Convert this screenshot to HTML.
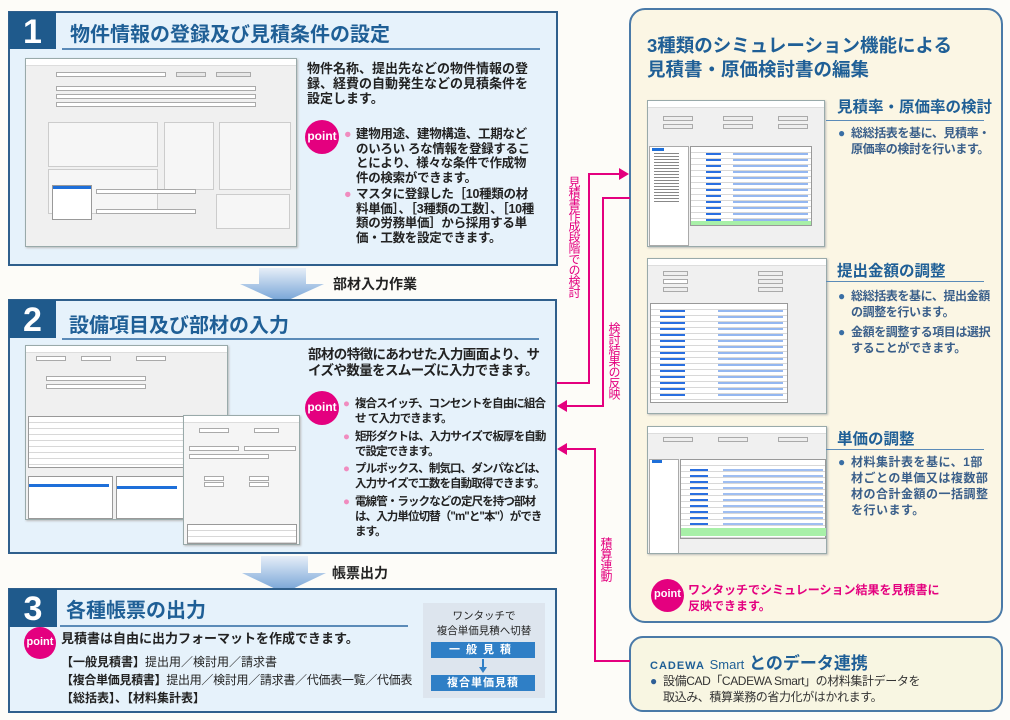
<!DOCTYPE html>
<html><head><meta charset="utf-8"><style>
*{margin:0;padding:0;box-sizing:border-box}
body{width:1010px;height:720px;position:relative;overflow:hidden;background:#fdfcf8;font-family:"Liberation Sans","Noto Sans CJK JP",sans-serif;color:#222}
.a{position:absolute}
.panel{position:absolute;background:#e6f2fb;border:2px solid #2f5f8c}
.num{position:absolute;background:#1f5a8c;color:#fff;font-weight:bold;font-size:34px;text-align:center;line-height:40px}
.ttl{position:absolute;color:#1f5f96;font-weight:bold;font-size:20px;white-space:nowrap;line-height:1}
.ul{position:absolute;height:2px;background:#5b8bb8}
.txt{position:absolute;font-weight:bold;font-size:13px;line-height:15px;color:#222}
.pt{position:absolute;border-radius:50%;background:#e4007f;color:#fff;font-weight:bold;font-size:12px;text-align:center}
.bl{position:absolute;font-weight:bold;font-size:12.5px;line-height:14.5px;color:#222}
.bl b{color:#f08cbf;position:absolute;left:-12px}
.rh{position:absolute;color:#1f5f96;font-weight:bold;font-size:15.5px;white-space:nowrap;line-height:1}
.rb{position:absolute;font-size:12px;line-height:16px;color:#3a5f8a;font-weight:bold;letter-spacing:-0.4px}
.rb b{color:#3a6fa5;position:absolute;left:-13px}
.win{position:absolute;background:#f0f0f0;border:1px solid #9aa;box-shadow:1px 1px 2px #bbb;overflow:hidden}
.win .tb{height:7px;background:#fff;border-bottom:1px solid #ddd}
.tbl{position:absolute;background:#fff;border:1px solid #999;background-image:repeating-linear-gradient(#fff 0 5px,#d8d8d8 5px 6px)}
.blu{position:absolute;background:repeating-linear-gradient(#2a6fe0 0 2px,transparent 2px 6px)}
.fld{position:absolute;background:#fff;border:1px solid #aaa;height:5px}
.vt{position:absolute;writing-mode:vertical-rl;color:#e4007f;font-size:12px;line-height:12px;letter-spacing:-1px}
.pk{position:absolute;background:#e4007f}
.arr{position:absolute}
</style></head><body>

<!-- Panel 1 -->
<div class="panel" style="left:8px;top:11px;width:550px;height:255px"></div>
<div class="num" style="left:9px;top:12px;width:47px;height:37px">1</div>
<div class="ttl" style="left:70px;top:25px">物件情報の登録及び見積条件の設定</div>
<div class="ul" style="left:62px;top:48px;width:478px"></div>
<div class="win" style="left:25px;top:58px;width:272px;height:189px"><div class="tb"></div>
 <div class="fld" style="left:30px;top:13px;width:110px"></div><div class="fld" style="left:150px;top:13px;width:30px;background:#e8e8e8"></div><div class="fld" style="left:190px;top:13px;width:35px;background:#e8e8e8"></div>
 <div class="fld" style="left:30px;top:27px;width:200px"></div><div class="fld" style="left:30px;top:35px;width:200px"></div><div class="fld" style="left:30px;top:43px;width:200px"></div>
 <div class="a" style="left:22px;top:63px;width:110px;height:45px;border:1px solid #ccc;background:#f6f6f6"></div>
 <div class="a" style="left:138px;top:63px;width:50px;height:68px;border:1px solid #ccc;background:#f6f6f6"></div>
 <div class="a" style="left:193px;top:63px;width:72px;height:68px;border:1px solid #ccc;background:#f6f6f6"></div>
 <div class="a" style="left:22px;top:110px;width:110px;height:45px;border:1px solid #ccc;background:#f6f6f6"></div>
 <div class="a" style="left:26px;top:126px;width:40px;height:35px;background:#fff;border:1px solid #999"></div>
 <div class="a" style="left:27px;top:127px;width:38px;height:3px;background:#1e6fd9"></div>
 <div class="a" style="left:190px;top:135px;width:74px;height:35px;border:1px solid #ccc;background:#f6f6f6"></div>
 <div class="fld" style="left:70px;top:130px;width:100px"></div><div class="fld" style="left:70px;top:150px;width:100px"></div>
</div>
<div class="txt" style="left:307px;top:61px;width:226px">物件名称、提出先などの物件情報の登録、経費の自動発生などの見積条件を設定します。</div>
<div class="pt" style="left:305px;top:120px;width:34px;height:34px;line-height:32px">point</div>
<div class="bl" style="left:356px;top:127px;width:180px;letter-spacing:-0.3px"><b>●</b>建物用途、建物構造、工期などのいろい ろな情報を登録することにより、様々な条件で作成物件の検索ができます。</div>
<div class="bl" style="left:356px;top:187px;width:180px;letter-spacing:-0.3px"><b>●</b>マスタに登録した［10種類の材料単価］、［3種類の工数］、［10種類の労務単価］から採用する単価・工数を設定できます。</div>

<!-- arrow 1 -->
<svg class="arr" style="left:238px;top:268px" width="90" height="36"><defs><linearGradient id="g" x1="0" y1="0" x2="0" y2="1"><stop offset="0" stop-color="#e6eef8"/><stop offset="1" stop-color="#6f9fd4"/></linearGradient></defs><path d="M21 0H68V16H86L44 35L2 16H21Z" fill="url(#g)"/></svg>
<div class="a" style="left:333px;top:274px;font-weight:bold;font-size:14px">部材入力作業</div>

<!-- Panel 2 -->
<div class="panel" style="left:8px;top:299px;width:549px;height:255px"></div>
<div class="num" style="left:9px;top:300px;width:47px;height:38px">2</div>
<div class="ttl" style="left:69px;top:316px">設備項目及び部材の入力</div>
<div class="ul" style="left:62px;top:338px;width:477px"></div>
<div class="win" style="left:25px;top:345px;width:203px;height:175px"><div class="tb"></div>
 <div class="fld" style="left:10px;top:10px;width:30px"></div><div class="fld" style="left:55px;top:10px;width:30px"></div><div class="fld" style="left:110px;top:10px;width:30px"></div>
 <div class="fld" style="left:20px;top:30px;width:100px"></div><div class="fld" style="left:20px;top:38px;width:100px"></div>
 <div class="tbl" style="left:2px;top:70px;width:198px;height:52px"></div>
 <div class="a" style="left:2px;top:130px;width:85px;height:43px;background:#fff;border:1px solid #999"></div>
 <div class="a" style="left:3px;top:138px;width:80px;height:3px;background:#1e6fd9"></div>
 <div class="a" style="left:90px;top:130px;width:110px;height:43px;background:#fff;border:1px solid #999"></div>
 <div class="a" style="left:91px;top:140px;width:60px;height:3px;background:#1e6fd9"></div>
</div>
<div class="win" style="left:183px;top:415px;width:117px;height:130px;background:#f5f5f5"><div class="tb"></div>
 <div class="fld" style="left:15px;top:12px;width:30px"></div><div class="fld" style="left:70px;top:12px;width:25px"></div>
 <div class="fld" style="left:5px;top:30px;width:50px"></div><div class="fld" style="left:60px;top:30px;width:52px"></div>
 <div class="fld" style="left:5px;top:38px;width:80px"></div>
 <div class="fld" style="left:20px;top:60px;width:20px"></div><div class="fld" style="left:20px;top:66px;width:20px"></div><div class="fld" style="left:65px;top:60px;width:20px"></div><div class="fld" style="left:65px;top:66px;width:20px"></div>
 <div class="tbl" style="left:3px;top:108px;width:110px;height:20px"></div>
</div>
<div class="txt" style="left:308px;top:347px;font-size:13.5px;line-height:16px;width:244px;letter-spacing:-0.6px">部材の特徴にあわせた入力画面より、サイズや数量をスムーズに入力できます。</div>
<div class="pt" style="left:305px;top:391px;width:34px;height:34px;line-height:32px">point</div>
<div class="bl" style="left:355px;top:397px;width:192px;line-height:15px;font-size:11.5px;letter-spacing:-0.9px"><b>●</b>複合スイッチ、コンセントを自由に組合せ て入力できます。</div>
<div class="bl" style="left:355px;top:430px;width:192px;line-height:15px;font-size:11.5px;letter-spacing:-0.9px"><b>●</b>矩形ダクトは、入力サイズで板厚を自動で設定できます。</div>
<div class="bl" style="left:355px;top:462px;width:192px;line-height:15px;font-size:11.5px;letter-spacing:-0.9px"><b>●</b>プルボックス、制気口、ダンパなどは、入力サイズで工数を自動取得できます。</div>
<div class="bl" style="left:355px;top:495px;width:192px;line-height:15px;font-size:11.5px;letter-spacing:-0.9px"><b>●</b>電線管・ラックなどの定尺を持つ部材は、入力単位切替（"m"と"本"）ができます。</div>

<!-- arrow 2 -->
<svg class="arr" style="left:240px;top:556px" width="90" height="38"><path d="M21 0H68V17H86L44 37L2 17H21Z" fill="url(#g)"/></svg>
<div class="a" style="left:332px;top:563px;font-weight:bold;font-size:14px">帳票出力</div>

<!-- Panel 3 -->
<div class="panel" style="left:8px;top:588px;width:549px;height:125px"></div>
<div class="num" style="left:9px;top:589px;width:48px;height:38px">3</div>
<div class="ttl" style="left:66px;top:601px">各種帳票の出力</div>
<div class="ul" style="left:60px;top:625px;width:348px"></div>
<div class="pt" style="left:24px;top:627px;width:32px;height:32px;line-height:30px;font-size:11px">point</div>
<div class="txt" style="left:61px;top:631px;font-size:13px">見積書は自由に出力フォーマットを作成できます。</div>
<div class="a" style="left:61px;top:653px;font-size:12px;white-space:nowrap"><b>【一般見積書】</b>提出用／検討用／請求書</div>
<div class="a" style="left:61px;top:671px;font-size:12px;white-space:nowrap;letter-spacing:-0.3px"><b>【複合単価見積書】</b>提出用／検討用／請求書／代価表一覧／代価表</div>
<div class="a" style="left:61px;top:689px;font-size:12px;white-space:nowrap"><b>【総括表】、【材料集計表】</b></div>
<div class="a" style="left:423px;top:603px;width:122px;height:95px;background:#dde5ee"></div>
<div class="a" style="left:423px;top:609px;width:122px;text-align:center;font-size:10.5px;line-height:15px">ワンタッチで<br>複合単価見積へ切替</div>
<div class="a" style="left:431px;top:642px;width:104px;height:16px;background:#2f7fc6;color:#fff;font-weight:bold;font-size:11px;text-align:center;line-height:16px;letter-spacing:6px">一般見積</div>
<div class="a" style="left:482px;top:659px;width:2px;height:10px;background:#2f7fc6"></div>
<div class="a" style="left:479px;top:667px;border:4px solid transparent;border-top:6px solid #2f7fc6"></div>
<div class="a" style="left:431px;top:675px;width:104px;height:16px;background:#2f7fc6;color:#fff;font-weight:bold;font-size:11px;text-align:center;line-height:16px;letter-spacing:1px">複合単価見積</div>

<!-- Right panel -->
<div class="a" style="left:629px;top:8px;width:374px;height:615px;border:2px solid #4a7aa8;border-radius:16px;background:#fbf6e4"></div>
<div class="ttl" style="left:647px;top:34px;font-size:18.5px;line-height:24px">3種類のシミュレーション機能による<br>見積書・原価検討書の編集</div>

<div class="win" style="left:647px;top:100px;width:178px;height:147px"><div class="tb"></div>
 <div class="fld" style="left:15px;top:15px;width:30px;background:#eee"></div><div class="fld" style="left:75px;top:15px;width:30px;background:#eee"></div><div class="fld" style="left:130px;top:15px;width:30px;background:#eee"></div>
 <div class="fld" style="left:15px;top:23px;width:30px;background:#eee"></div><div class="fld" style="left:75px;top:23px;width:30px;background:#eee"></div><div class="fld" style="left:130px;top:23px;width:30px;background:#eee"></div>
 <div class="a" style="left:1px;top:45px;width:40px;height:100px;background:#fff;border:1px solid #aaa"></div>
 <div class="a" style="left:4px;top:47px;width:12px;height:3px;background:#1e6fd9"></div>
 <div class="a" style="left:6px;top:52px;width:25px;height:50px;background:repeating-linear-gradient(#888 0 1px,transparent 1px 3px)"></div>
 <div class="tbl" style="left:42px;top:45px;width:122px;height:80px"></div>
 <div class="blu" style="left:58px;top:52px;width:15px;height:68px"></div>
 <div class="blu" style="left:85px;top:52px;width:75px;height:68px;opacity:.5"></div>
 <div class="a" style="left:43px;top:120px;width:120px;height:4px;background:#a8f0a8"></div>
</div>
<div class="rh" style="left:837px;top:100px">見積率・原価率の検討</div>
<div class="ul" style="left:826px;top:120px;width:158px;height:1px"></div>
<div class="rb" style="left:851px;top:125px;width:146px"><b>●</b>総総括表を基に、見積率・原価率の検討を行います。</div>

<div class="win" style="left:647px;top:258px;width:180px;height:156px"><div class="tb"></div>
 <div class="fld" style="left:15px;top:12px;width:25px;background:#eee"></div><div class="fld" style="left:15px;top:20px;width:25px"></div><div class="fld" style="left:15px;top:28px;width:25px;background:#eee"></div>
 <div class="fld" style="left:110px;top:12px;width:25px;background:#eee"></div><div class="fld" style="left:110px;top:20px;width:25px;background:#eee"></div><div class="fld" style="left:110px;top:28px;width:25px;background:#eee"></div>
 <div class="tbl" style="left:2px;top:44px;width:138px;height:100px"></div>
 <div class="blu" style="left:12px;top:51px;width:25px;height:90px"></div>
 <div class="blu" style="left:70px;top:51px;width:65px;height:90px;opacity:.5"></div>
</div>
<div class="rh" style="left:837px;top:264px">提出金額の調整</div>
<div class="ul" style="left:826px;top:281px;width:158px;height:1px"></div>
<div class="rb" style="left:851px;top:288px;width:146px"><b>●</b>総総括表を基に、提出金額の調整を行います。</div>
<div class="rb" style="left:851px;top:324px;width:146px"><b>●</b>金額を調整する項目は選択することができます。</div>

<div class="win" style="left:647px;top:426px;width:180px;height:128px"><div class="tb"></div>
 <div class="fld" style="left:15px;top:10px;width:30px;background:#eee"></div><div class="fld" style="left:70px;top:10px;width:30px;background:#eee"></div><div class="fld" style="left:130px;top:10px;width:30px;background:#eee"></div>
 <div class="a" style="left:1px;top:32px;width:30px;height:95px;background:#fff;border:1px solid #aaa"></div>
 <div class="a" style="left:4px;top:33px;width:10px;height:3px;background:#1e6fd9"></div>
 <div class="tbl" style="left:32px;top:32px;width:146px;height:80px"></div>
 <div class="blu" style="left:42px;top:42px;width:18px;height:66px"></div>
 <div class="blu" style="left:75px;top:42px;width:100px;height:66px;opacity:.45"></div>
 <div class="a" style="left:33px;top:101px;width:145px;height:8px;background:#a8f0a8"></div>
</div>
<div class="rh" style="left:837px;top:432px">単価の調整</div>
<div class="ul" style="left:826px;top:449px;width:158px;height:1px"></div>
<div class="rb" style="left:851px;top:454px;width:140px;letter-spacing:0.5px"><b>●</b>材料集計表を基に、1部材ごとの単価又は複数部材の合計金額の一括調整を行います。</div>

<div class="pt" style="left:651px;top:579px;width:33px;height:33px;line-height:31px;font-size:11px">point</div>
<div class="a" style="left:688px;top:582px;color:#e4007f;font-weight:bold;font-size:12px;line-height:16px">ワンタッチでシミュレーション結果を見積書に<br>反映できます。</div>

<!-- bottom right -->
<div class="a" style="left:629px;top:636px;width:374px;height:76px;border:2px solid #4a7aa8;border-radius:14px;background:#f8f6e2"></div>
<div class="a" style="left:650px;top:649px;color:#1f5f96;font-size:17px;font-weight:bold;white-space:nowrap"><span style="font-size:11px;letter-spacing:1px">CADEWA</span> <span style="font-weight:normal;font-size:13px">Smart</span> とのデータ連携</div>
<div class="rb" style="left:663px;top:673px;width:300px;color:#333;font-weight:normal;font-size:12px"><b style="color:#2f5f96">●</b>設備CAD「CADEWA Smart」の材料集計データを<br>取込み、積算業務の省力化がはかれます。</div>

<!-- pink connectors -->
<div class="pk" style="left:557px;top:382px;width:33px;height:2px"></div>
<div class="pk" style="left:588px;top:173px;width:2px;height:211px"></div>
<div class="pk" style="left:588px;top:173px;width:32px;height:2px"></div>
<div class="a" style="left:619px;top:168px;border:6px solid transparent;border-left:10px solid #e4007f;border-right:0"></div>

<div class="pk" style="left:602px;top:197px;width:28px;height:2px"></div>
<div class="pk" style="left:602px;top:197px;width:2px;height:210px"></div>
<div class="pk" style="left:566px;top:405px;width:38px;height:2px"></div>
<div class="a" style="left:557px;top:400px;border:6px solid transparent;border-right:10px solid #e4007f;border-left:0"></div>

<div class="pk" style="left:594px;top:448px;width:2px;height:214px"></div>
<div class="pk" style="left:566px;top:448px;width:30px;height:2px"></div>
<div class="a" style="left:557px;top:443px;border:6px solid transparent;border-right:10px solid #e4007f;border-left:0"></div>
<div class="pk" style="left:594px;top:660px;width:36px;height:2px"></div>

<div class="vt" style="left:568px;top:176px">見積書作成段階での検討</div>
<div class="vt" style="left:608px;top:322px">検討結果の反映</div>
<div class="vt" style="left:600px;top:537px">積算連動</div>
</body></html>
